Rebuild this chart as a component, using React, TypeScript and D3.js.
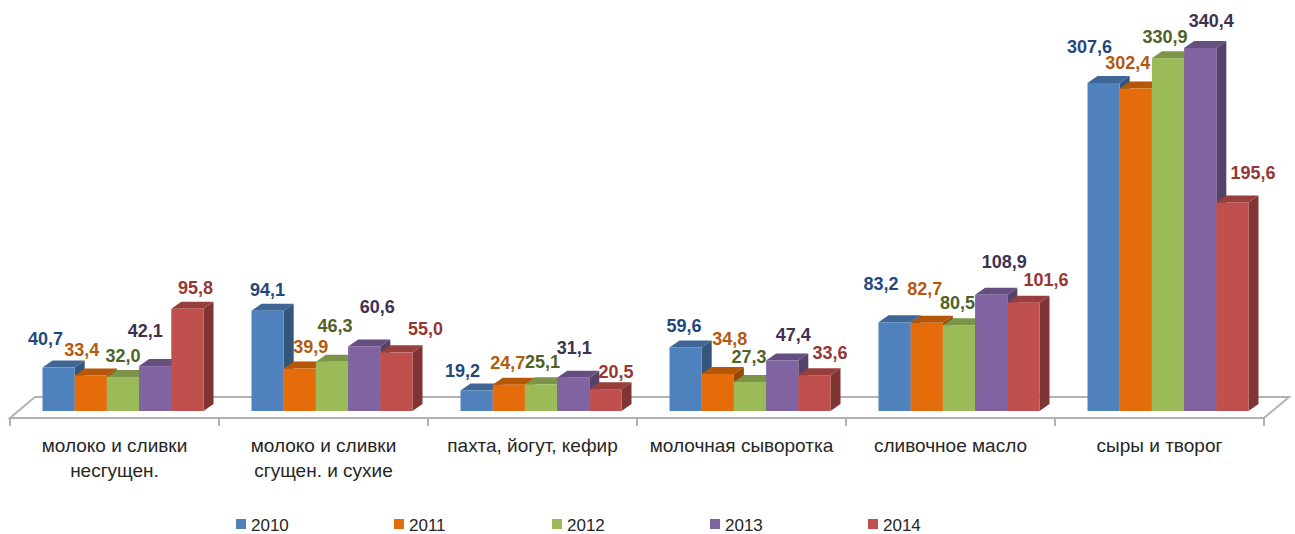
import React from "react";
import * as d3 from "d3";

// ---- data ----
const categories: string[][] = [
  ["молоко и сливки", "несгущен."],
  ["молоко и сливки", "сгущен. и сухие"],
  ["пахта, йогут, кефир"],
  ["молочная сыворотка"],
  ["сливочное масло"],
  ["сыры и творог"],
];
const years = ["2010", "2011", "2012", "2013", "2014"];
const v2010 = [40.7, 94.1, 19.2, 59.6, 83.2, 307.6];
const v2011 = [33.4, 39.9, 24.7, 34.8, 82.7, 302.4];
const v2012 = [32.0, 46.3, 25.1, 27.3, 80.5, 330.9];
const v2013 = [42.1, 60.6, 31.1, 47.4, 108.9, 340.4];
const v2014 = [95.8, 55.0, 20.5, 33.6, 101.6, 195.6];
const seriesValues = [v2010, v2011, v2012, v2013, v2014];

// ---- styles ----
const fillColors = ["#4F81BD", "#E46C0A", "#9BBB59", "#8064A2", "#C0504D"];
const labelColors = ["#1F497D", "#B35A0E", "#4F6228", "#3F3151", "#953735"];

// label nudges [dx, dy above bar top] per category, per series (layout of the reference)
const labelNudge: number[][][] = [
  [[-13, 23], [-9, 19], [0, 15], [-10, 29], [8, 15]],
  [[0, 15], [11, 15], [3, 30], [13, 33], [29, 17]],
  [[-14, 14], [-1, 16], [1.5, 16], [1, 24], [10.5, 11]],
  [[-1.5, 15], [12, 29], [-1, 19], [11, 19], [15.5, 16]],
  [[-13.5, 32], [-2, 28], [-1.5, 16], [13, 27], [22.5, 17]],
  [[-14, 30], [-8, 20], [-3, 15], [11, 21], [20.5, 23]],
];

const W = 1295;
const H = 534;
const baseY = 411;
const floorFrontY = 418;
const floorDX = 25;
const floorDY = 21;
const depthX = 10;
const depthY = 7;
const barOffset = 32.5;
const barW = 32.2;

const fmt = (v: number) => v.toFixed(1).replace(".", ",");

export default function App() {
  const x = d3
    .scaleBand<number>()
    .domain(categories.map((_, i) => i))
    .range([10, 1264])
    .paddingInner(0)
    .paddingOuter(0);
  const xs = d3
    .scaleBand<string>()
    .domain(years)
    .range([barOffset, barOffset + barW * years.length]);
  const y = d3.scaleLinear().domain([0, 340.4]).range([baseY, 48]);

  const x0 = x.range()[0];
  const x1 = x.range()[1];
  const floorPts = [
    [x0, floorFrontY],
    [x1, floorFrontY],
    [x1 + floorDX, floorFrontY - floorDY],
    [x0 + floorDX, floorFrontY - floorDY],
  ];

  const ticks = d3.range(categories.length + 1).map((i) => x0 + i * x.bandwidth());

  const bars: React.ReactNode[] = [];
  const labels: React.ReactNode[] = [];
  categories.forEach((_, c) => {
    years.forEach((yr, j) => {
      const v = seriesValues[j][c];
      const bx = (x(c) as number) + (xs(yr) as number);
      const bw = xs.bandwidth();
      const ty = y(v);
      const col = d3.rgb(fillColors[j]);
      const top = col.darker(0.65).formatHex();
      const side = col.darker(1.15).formatHex();
      const sidePts = [
        [bx + bw, baseY],
        [bx + bw + depthX, baseY - depthY],
        [bx + bw + depthX, ty - depthY],
        [bx + bw, ty],
      ];
      const topPts = [
        [bx, ty],
        [bx + depthX, ty - depthY],
        [bx + bw + depthX, ty - depthY],
        [bx + bw, ty],
      ];
      bars.push(
        <g key={`b${c}-${j}`}>
          <polygon points={sidePts.map((p) => p.join(",")).join(" ")} fill={side} />
          <polygon points={topPts.map((p) => p.join(",")).join(" ")} fill={top} />
          <rect x={bx} y={ty} width={bw} height={baseY - ty} fill={fillColors[j]} />
        </g>
      );
      const [ndx, ndy] = labelNudge[c][j];
      labels.push(
        <text
          key={`l${c}-${j}`}
          x={bx + bw / 2 + ndx}
          y={ty - ndy}
          textAnchor="middle"
          fontFamily="'Liberation Sans', Arial, sans-serif"
          fontWeight="bold"
          fontSize={18}
          fill={labelColors[j]}
        >
          {fmt(v)}
        </text>
      );
    });
  });

  return (
    <svg
      width={W}
      height={H}
      style={{ position: "absolute", left: 0, top: 0, display: "block", background: "#fff" }}
    >
      <polygon
        points={floorPts.map((p) => p.join(",")).join(" ")}
        fill="#fff"
        stroke="#B2B2B2"
        strokeWidth={2}
      />
      {ticks.map((t, i) => (
        <line key={`t${i}`} x1={t} x2={t} y1={floorFrontY} y2={floorFrontY + 8} stroke="#B2B2B2" strokeWidth={2} />
      ))}
      {bars}
      {labels}
      {categories.map((lines, c) => (
        <text
          key={`c${c}`}
          textAnchor="middle"
          fontFamily="'Liberation Sans', Arial, sans-serif"
          fontSize={19}
          fill="#262626"
        >
          {lines.map((ln, k) => (
            <tspan key={k} x={(x(c) as number) + x.bandwidth() / 2} y={452 + k * 25}>
              {ln}
            </tspan>
          ))}
        </text>
      ))}
      {years.map((yr, i) => (
        <g key={`lg${i}`} transform={`translate(${236 + i * 158},0)`}>
          <rect x={0} y={519} width={10} height={10} fill={fillColors[i]} />
          <text x={15} y={531} fontFamily="'Liberation Sans', Arial, sans-serif" fontSize={17} fill="#262626">
            {yr}
          </text>
        </g>
      ))}
    </svg>
  );
}
